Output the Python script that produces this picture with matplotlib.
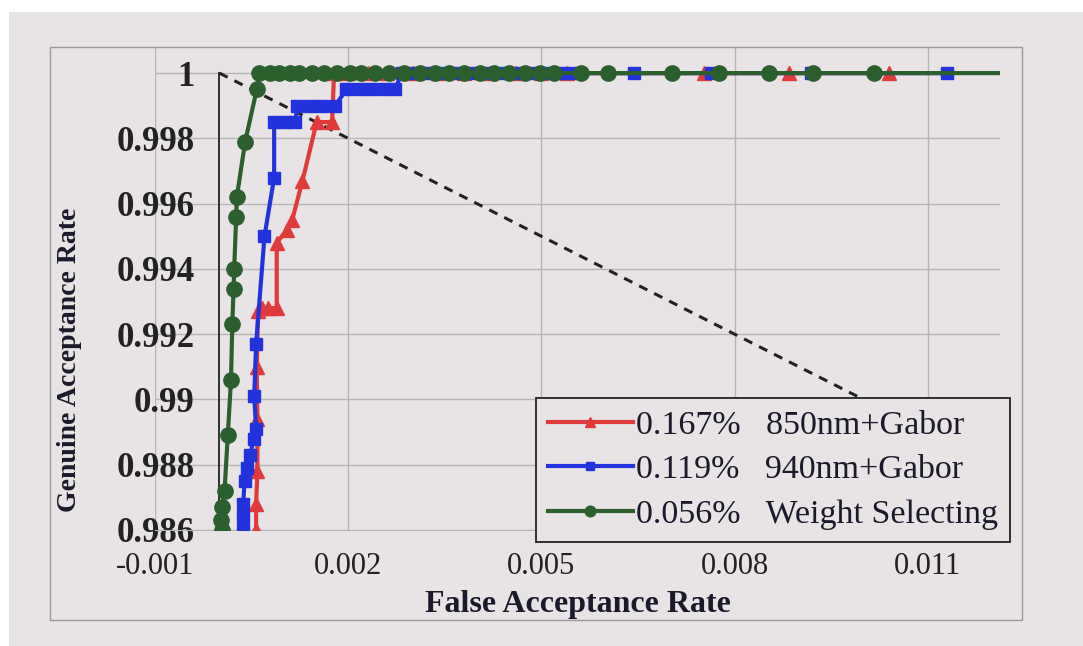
import matplotlib
matplotlib.use('Agg')
import matplotlib.pyplot as plt
from matplotlib.patches import Rectangle

plt.rcParams['font.family'] = ['Liberation Serif', 'DejaVu Serif']

# ROC data (FAR, GAR)
far_850 = [0.00057, 0.00057, 0.00059, 0.00059, 0.00058, 0.00060, 0.00066, 0.00075, 0.00089,
           0.00089, 0.00105, 0.00113, 0.00129, 0.00151, 0.00175, 0.00178,
           0.0020, 0.0023, 0.0026, 0.0030, 0.0034, 0.0038, 0.0042, 0.0046, 0.0050, 0.0054,
           0.00752, 0.00885, 0.0104]
gar_850 = [0.9860, 0.9868, 0.9878, 0.9894, 0.9910, 0.9927, 0.9928, 0.9928, 0.9928,
           0.9948, 0.9952, 0.9955, 0.9967, 0.9985, 0.9985, 1.0,
           1.0, 1.0, 1.0, 1.0, 1.0, 1.0, 1.0, 1.0, 1.0, 1.0,
           1.0, 1.0, 1.0]

far_940 = [0.00036, 0.00036, 0.00037, 0.00039, 0.00043, 0.00048, 0.00053, 0.00057, 0.00054,
           0.00057, 0.00070, 0.00085, 0.00085, 0.00102, 0.00118, 0.00121, 0.00140, 0.00160,
           0.00180, 0.00197, 0.00217, 0.00236, 0.00255, 0.00273, 0.00283,
           0.00303, 0.00326, 0.00349, 0.00373, 0.00396, 0.00419, 0.00443, 0.00466,
           0.00489, 0.00512, 0.00536, 0.00556, 0.00644, 0.00764, 0.00918, 0.01129]
gar_940 = [0.9860, 0.9864, 0.9868, 0.9875, 0.9879, 0.9883, 0.9888, 0.9891, 0.9901,
           0.9917, 0.9950, 0.9968, 0.9985, 0.9985, 0.9985, 0.9990, 0.9990, 0.9990,
           0.9990, 0.9995, 0.9995, 0.9995, 0.9995, 0.9995, 1.0,
           1.0, 1.0, 1.0, 1.0, 1.0, 1.0, 1.0, 1.0,
           1.0, 1.0, 1.0, 1.0, 1.0, 1.0, 1.0, 1.0]

far_ws = [0.00004, 0.00003, 0.00004, 0.00008, 0.00013, 0.00018, 0.00020, 0.00022, 0.00023,
          0.00026, 0.00027, 0.00040, 0.00058, 0.00062,
          0.00078, 0.00093, 0.00109, 0.00124, 0.00143, 0.00163, 0.00183, 0.00202, 0.00220,
          0.00241, 0.00264, 0.00287, 0.00311, 0.00334, 0.00357, 0.00380, 0.00404, 0.00427,
          0.00450, 0.00474, 0.00497, 0.00520, 0.00562, 0.00604, 0.00703, 0.00776, 0.00854,
          0.00921, 0.01016, 0.01211]
gar_ws = [0.9860, 0.9863, 0.9867, 0.9872, 0.9889, 0.9906, 0.9923, 0.9934, 0.9940,
          0.9956, 0.9962, 0.9979, 0.9995, 1.0,
          1.0, 1.0, 1.0, 1.0, 1.0, 1.0, 1.0, 1.0, 1.0,
          1.0, 1.0, 1.0, 1.0, 1.0, 1.0, 1.0, 1.0, 1.0,
          1.0, 1.0, 1.0, 1.0, 1.0, 1.0, 1.0, 1.0, 1.0,
          1.0, 1.0, 1.0]

labels = ['0.167%   850nm+Gabor', '0.119%   940nm+Gabor', '0.056%   Weight Selecting']

# equal error line GAR = 1 - FAR
eer_x = [0.0, 0.014]
eer_y = [1.0, 0.986]

xticks = [-0.001, 0.002, 0.005, 0.008, 0.011]
xticklabels = ['-0.001', '0.002', '0.005', '0.008', '0.011']
yticks = [0.986, 0.988, 0.990, 0.992, 0.994, 0.996, 0.998, 1.0]
yticklabels = ['0.986', '0.988', '0.99', '0.992', '0.994', '0.996', '0.998', '1']

bg = '#e8e4e5'
fig = plt.figure(figsize=(10.83, 6.46), dpi=100, facecolor=bg)
fig.add_artist(Rectangle((0, 634 / 646), 1, 12 / 646, transform=fig.transFigure,
                         facecolor='white', edgecolor='none'))
fig.add_artist(Rectangle((0, 0), 9 / 1083, 1, transform=fig.transFigure,
                         facecolor='white', edgecolor='none'))
# chart area border
fig.add_artist(Rectangle((50 / 1083, 26 / 646), 972 / 1083, 573 / 646, transform=fig.transFigure,
                         facecolor='none', edgecolor='#9a9a9a', lw=1))

ax = fig.add_axes([155 / 1083, 116 / 646, 845 / 1083, 483 / 646])
ax.set_facecolor(bg)

# y axis crosses at FAR = 0 (do this before tick labels, it resets the ticks)
ax.spines['left'].set_position(('data', 0))
ax.spines['left'].set_bounds(0.986, 1.0)
ax.spines['left'].set_color('#222222')
ax.spines['left'].set_linewidth(1.3)
ax.spines['bottom'].set_color('#b5b5b5')
ax.spines['top'].set_visible(False)
ax.spines['right'].set_visible(False)

ax.plot(eer_x, eer_y, color='#222222', lw=2.2, ls=(0, (3, 2.5)), zorder=2)
ax.plot(far_850, gar_850, color='#e03a3a', lw=3, marker='^', ms=10, label=labels[0], zorder=3)
ax.plot(far_940, gar_940, color='#2233dd', lw=3, marker='s', ms=9, label=labels[1], zorder=4)
ax.plot(far_ws, gar_ws, color='#2b5f2d', lw=3, marker='o', ms=11,
        markevery=list(range(len(far_ws) - 1)), label=labels[2], zorder=5)

ax.set_xlim(-0.001, 0.01212)
ax.set_ylim(0.986, 1.0008)
ax.set_xticks(xticks)
ax.set_xticklabels(xticklabels, fontsize=22)
ax.set_yticks(yticks)
ax.set_yticklabels(yticklabels, fontsize=25, fontweight='bold')
ax.tick_params(axis='both', length=0, colors='#222222')
ax.tick_params(axis='y', pad=18)
ax.tick_params(axis='x', pad=16)

ax.grid(True, color='#b5b5b5', lw=1)
ax.set_axisbelow(True)

ax.set_xlabel('False Acceptance Rate', fontsize=23, fontweight='bold', color='#1a1a2a', labelpad=6)
ax.set_ylabel('Genuine Acceptance Rate', fontsize=20, fontweight='bold', color='#1a1a2a')
ax.yaxis.set_label_coords(-0.086, 0.352)

leg = ax.legend(loc='upper right', bbox_to_anchor=(1010 / 1083, 1 - 398 / 646),
                bbox_transform=fig.transFigure, prop={'size': 24.5}, frameon=True, fancybox=False,
                facecolor=bg, edgecolor='#222222', framealpha=1, handlelength=2.5,
                handletextpad=0.1, labelspacing=0.4, borderpad=0.35, markerscale=0.7,
                borderaxespad=0)
leg.get_frame().set_linewidth(1.3)
for t in leg.get_texts():
    t.set_color('#1a1a2a')

fig.savefig('out.png', dpi=100, facecolor=bg)
